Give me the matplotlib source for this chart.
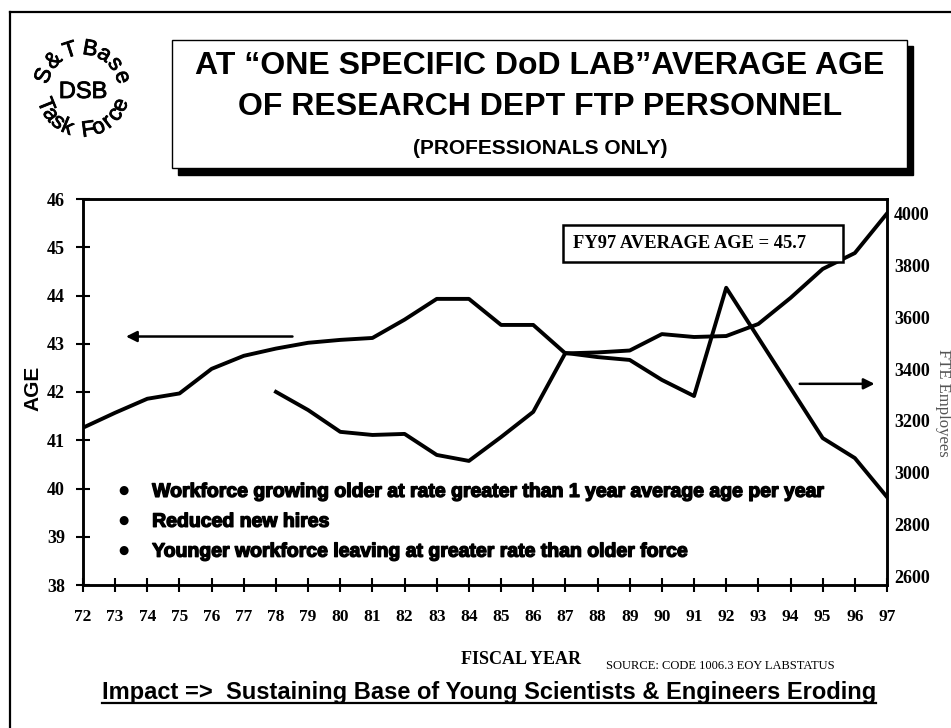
import numpy as np
import matplotlib
matplotlib.use("Agg")
import matplotlib.pyplot as plt
import matplotlib.patheffects as pe
from matplotlib.patches import Rectangle
from matplotlib.lines import Line2D

W, H = 951, 728
SANS = "Liberation Sans"
SERIF = "Liberation Serif"
INK = "black"

# data
years = list(range(72, 98))
year_labels = [str(y) for y in years]
avg_age = [41.26, 41.57, 41.86, 41.97, 42.48, 42.75, 42.90, 43.02, 43.08, 43.12,
           43.50, 43.93, 43.93, 43.39, 43.39, 42.80, 42.82, 42.86, 43.20, 43.14,
           43.16, 43.41, 43.95, 44.55, 44.88, 45.70]
fte_years = list(range(78, 98))
fte = [3312, 3242, 3158, 3146, 3150, 3069, 3046, 3138, 3235, 3462,
       3446, 3435, 3358, 3296, 3713, 3520, 3327, 3134, 3057, 2907]
age_ticks = list(range(38, 47))
fte_ticks = list(range(2600, 4001, 200))
bullets = [
    "Workforce growing older at rate greater than 1 year average age per year",
    "Reduced new hires",
    "Younger workforce leaving at greater rate than older force",
]
title_lines = ["AT \u201cONE SPECIFIC DoD LAB\u201dAVERAGE AGE",
               "OF RESEARCH DEPT FTP PERSONNEL",
               "(PROFESSIONALS ONLY)"]


def fx(x):
    return x / W


def fy(y):
    return 1 - y / H


def rect_px(x0, y0, x1, y1, **kw):
    return Rectangle((fx(x0), fy(y1)), (x1 - x0) / W, (y1 - y0) / H,
                     transform=fig.transFigure, **kw)


plt.rcParams["font.family"] = SANS
fig = plt.figure(figsize=(W / 100, H / 100), dpi=100)
fig.patch.set_facecolor("white")

# page frame (only top and left edges survive in the scan)
fig.add_artist(Line2D([fx(10), fx(10)], [fy(12), 0], transform=fig.transFigure, color=INK, lw=1.6))
fig.add_artist(Line2D([fx(10), 1], [fy(12), fy(12)], transform=fig.transFigure, color=INK, lw=1.6))

# title box with drop shadow
fig.add_artist(rect_px(178, 46, 913, 175, facecolor=INK, edgecolor=INK))
fig.add_artist(rect_px(172, 40, 907, 168, facecolor="white", edgecolor=INK, lw=1.0))
fig.text(fx(540), fy(66), title_lines[0], ha="center", va="center", fontsize=23, fontweight="bold")
fig.text(fx(540), fy(107), title_lines[1], ha="center", va="center", fontsize=23, fontweight="bold")
fig.text(fx(540), fy(148), title_lines[2], ha="center", va="center", fontsize=15, fontweight="bold")

# round "S&T Base / DSB / Task Force" stamp
cx, cy, r = 83, 90, 41
heavy = [pe.withStroke(linewidth=0.6, foreground=INK)]
fig.text(fx(cx), fy(cy + 2), "DSB", ha="center", va="center", fontsize=17, path_effects=heavy)
top_chars = ["S", "&", "T", "B", "a", "s", "e"]
top_angles = [160, 135, 108, 80, 59, 39, 18]
for ch, a in zip(top_chars, top_angles):
    t = np.radians(a)
    fig.text(fx(cx + r * np.cos(t)), fy(cy - r * np.sin(t)), ch, ha="center", va="center",
             rotation=a - 90, rotation_mode="anchor", fontsize=16, path_effects=heavy)
bottom_text = "Task Force"
bottom_angles = np.linspace(202, 338, len(bottom_text))
for ch, a in zip(bottom_text, bottom_angles):
    if ch == " ":
        continue
    t = np.radians(a)
    fig.text(fx(cx + r * np.cos(t)), fy(cy - r * np.sin(t)), ch, ha="center", va="center",
             rotation=a + 90, rotation_mode="anchor", fontsize=16, path_effects=heavy)

# chart
ax = fig.add_axes([fx(83), fy(585), (887 - 83) / W, (585 - 199) / H])
ax.set_facecolor("none")
ax.plot(years, avg_age, color=INK, lw=2.8)
ax.set_xlim(72, 97)
ax.set_ylim(38, 46)
ax.set_xticks(years)
ax.set_xticklabels(year_labels, fontfamily=SERIF, fontweight="bold", fontsize=12.5)
ax.set_yticks(age_ticks)
ax.set_yticklabels([str(v) for v in age_ticks], fontfamily=SERIF, fontweight="bold", fontsize=13)
ax.tick_params(axis="x", direction="inout", length=10, width=1.5, pad=12)
ax.tick_params(axis="y", direction="inout", length=10, width=1.5, pad=8)
for s in ax.spines.values():
    s.set_linewidth(1.8)

ax2 = ax.twinx()
ax2.plot(fte_years, fte, color=INK, lw=2.8)
ax2.set_ylim(2568, 4055)
ax2.set_yticks(fte_ticks)
ax2.set_yticklabels([str(v) for v in fte_ticks], fontfamily=SERIF, fontweight="bold", fontsize=13)
ax2.tick_params(axis="y", length=0, pad=5)
for s in ax2.spines.values():
    s.set_linewidth(1.8)

# arrows pointing to the matching axis
ax.annotate("", xy=(73.25, 43.15), xytext=(78.6, 43.15),
            arrowprops=dict(arrowstyle="-|>", color=INK, lw=1.8, mutation_scale=16))
ax2.annotate("", xy=(96.7, 3343), xytext=(94.2, 3343),
             arrowprops=dict(arrowstyle="-|>", color=INK, lw=1.8, mutation_scale=16))

# FY97 callout
fig.add_artist(rect_px(563, 225, 843, 262, facecolor="white", edgecolor=INK, lw=1.8))
fig.text(fx(690), fy(244), "FY97 AVERAGE AGE = 45.7", ha="center", va="center",
         fontfamily=SERIF, fontweight="bold", fontsize=13.3)

# bullet notes (heavy face in the original)
for txt, y in zip(bullets, [39.92, 39.30, 38.68]):
    ax.text(73.25, y + 0.04, "\u25cf", ha="center", va="center", fontsize=8.5, fontfamily="DejaVu Sans")
    ax.text(74.15, y, txt, ha="left", va="center", fontsize=14, fontweight="bold",
            path_effects=[pe.withStroke(linewidth=1.0, foreground=INK)])

# axis titles
fig.text(fx(33), fy(388), "AGE", rotation=90, ha="center", va="center", fontsize=15, fontweight="bold")
fig.text(fx(943), fy(403), "FTE Employees", rotation=270, ha="center", va="center",
         fontfamily=SERIF, fontsize=12, color="#555555")
fig.text(fx(521), fy(660), "FISCAL YEAR", ha="center", va="center",
         fontfamily=SERIF, fontweight="bold", fontsize=13)
fig.text(fx(606), fy(666), "SOURCE: CODE 1006.3 EOY LABSTATUS", ha="left", va="center",
         fontfamily=SERIF, fontsize=9)

# underlined takeaway line
impact = fig.text(fx(489), fy(693), "Impact =>  Sustaining Base of Young Scientists & Engineers Eroding",
                  ha="center", va="center", fontsize=17, fontweight="bold")
fig.canvas.draw()
bb = impact.get_window_extent().transformed(fig.transFigure.inverted())
fig.add_artist(Line2D([bb.x0, bb.x1], [bb.y0 + 0.002, bb.y0 + 0.002], transform=fig.transFigure,
                      color=INK, lw=1.6))

fig.savefig("out.png", dpi=100, facecolor="white")
